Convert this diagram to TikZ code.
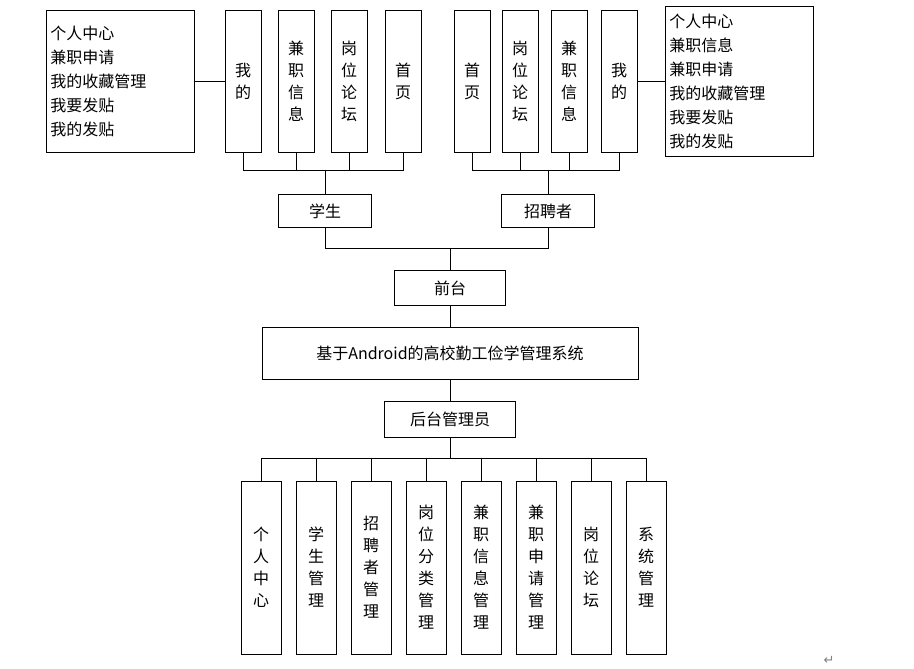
\documentclass[tikz,border=0pt]{standalone}
\usepackage{fontspec}
\setmainfont{Noto Sans CJK SC}
\newfontfamily\symfont{DejaVu Sans}
\usetikzlibrary{positioning}
\begin{document}
\begin{tikzpicture}[x=1pt,y=-1pt,
        box/.style={draw,thick,inner sep=0pt,font=\fontsize{16}{22}\selectfont,align=center},
        colbox/.style={box,minimum width=36pt,minimum height=142pt},
        lowbox/.style={box,minimum width=40pt,minimum height=173pt},
        listbox/.style={box,align=left,text width=140pt,inner sep=4pt,font=\fontsize{16}{24}\selectfont},
        link/.style={thick}]
  \useasboundingbox (0,0) rectangle (914,669);
  % top left: student pages
  \node[listbox,minimum height=142pt,anchor=north west] (sinfo) at (46,10)
        {个人中心\\兼职申请\\我的收藏管理\\我要发贴\\我的发贴};
  \node[colbox] (smine) at (243,81) {我\\的};
  \node[colbox] (sjob) at (296,81) {兼\\职\\信\\息};
  \node[colbox] (sforum) at (349,81) {岗\\位\\论\\坛};
  \node[colbox] (shome) at (403,81) {首\\页};
  % top right: recruiter pages
  \node[colbox] (rhome) at (472,81) {首\\页};
  \node[colbox] (rforum) at (520,81) {岗\\位\\论\\坛};
  \node[colbox] (rjob) at (569,81) {兼\\职\\信\\息};
  \node[colbox] (rmine) at (619,81) {我\\的};
  \node[listbox,minimum height=150pt,anchor=north west] (rinfo) at (665,6)
        {个人中心\\兼职信息\\兼职申请\\我的收藏管理\\我要发贴\\我的发贴};
  \draw[link] (sinfo.east|-smine.west) -- (smine.west);
  \draw[link] (rmine.east) -- (rinfo.west|-rmine.east);
  % user roles
  \node[box,minimum width=93pt,minimum height=33pt] (student) at (325,211) {学生};
  \node[box,minimum width=93pt,minimum height=33pt] (recruit) at (548,211) {招聘者};
  \foreach \n in {smine,sjob,sforum,shome}{
    \draw[link] (\n.south) -- ++(0,18) -| (student.north);
  }
  \foreach \n in {rhome,rforum,rjob,rmine}{
    \draw[link] (\n.south) -- ++(0,18) -| (recruit.north);
  }
  \node[box,minimum width=111pt,minimum height=35pt] (front) at (450,288) {前台};
  \draw[link] (student.south) -- ++(0,20) -| (front.north);
  \draw[link] (recruit.south) -- ++(0,20) -| (front.north);
  % system
  \node[box,minimum width=376pt,minimum height=52pt] (sys) at (450,353)
        {基于Android的高校勤工俭学管理系统};
  \draw[link] (front.south) -- (sys.north);
  \node[box,minimum width=131pt,minimum height=36pt] (back) at (450,419) {后台管理员};
  \draw[link] (sys.south) -- (back.north);
  % admin modules
  \foreach \n/\t [count=\i from 0] in {m1/个\\人\\中\\心,m2/学\\生\\管\\理,m3/招\\聘\\者\\管\\理,
        m4/岗\\位\\分\\类\\管\\理,m5/兼\\职\\信\\息\\管\\理,m6/兼\\职\\申\\请\\管\\理,
        m7/岗\\位\\论\\坛,m8/系\\统\\管\\理}{
    \node[lowbox] (\n) at (261+55*\i,567.5) {\t};
    \draw[link] (\n.north) -- ++(0,-22) -| (back.south);
  }
  \node[font=\symfont\fontsize{13}{13}\selectfont,text=gray] (ret) at (829,660) {↵};
\end{tikzpicture}
\end{document}
